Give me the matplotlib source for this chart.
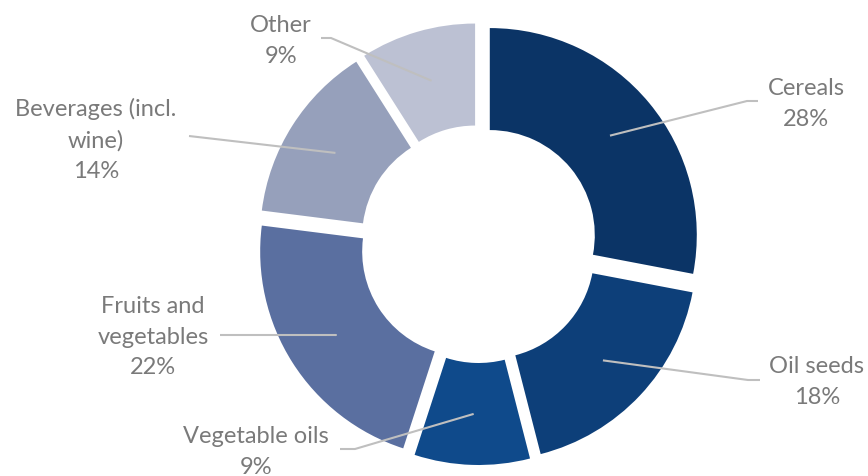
import matplotlib
matplotlib.use("Agg")
import matplotlib.pyplot as plt
import numpy as np

plt.rcParams['font.family'] = ['Lato', 'DejaVu Sans']

labels = ["Cereals", "Oil seeds", "Vegetable oils", "Fruits and\nvegetables",
          "Beverages (incl.\nwine)", "Other"]
shares = [28, 18, 9, 22, 14, 9]
colors = ["#0b3466", "#0d3f79", "#0f4a8b", "#5a6fa0", "#96a0bb", "#bcc1d3"]

# label centre and leader elbow, in pixel coords (y down)
label_pos = [(806, 104), (817, 382), (256, 452), (153, 337), (96, 140), (281, 41)]
elbows = [[(747, 102), (758, 102)],
          [(748, 381), (760, 381)],
          [(355, 450), (340, 450)],
          [(336, 336), (220, 336)],
          [(189, 137), (189, 137)],
          [(331, 39), (321, 39)]]

W, H = 868, 477
cx, cy = 479, 245
R, r = 207, 105
gap = 14

fig = plt.figure(figsize=(W / 100, H / 100), dpi=100)
ax = fig.add_axes([0, 0, 1, 1])

# explode is in data units here (pixels)
ax.pie(shares, colors=colors, radius=R, center=(cx, H - cy),
       startangle=90, counterclock=False,
       explode=[gap] * len(shares),
       wedgeprops=dict(width=R - r, linewidth=0))
ax.set_xlim(0, W)
ax.set_ylim(0, H)
ax.set_aspect('equal')
ax.axis('off')

# leader lines start at the middle of each ring segment
total = sum(shares)
start = 0
line_col = "#bfbfbf"
for lab, v, pos, elb in zip(labels, shares, label_pos, elbows):
    mid = np.deg2rad(360 * (start + v / 2) / total)
    start += v
    rr = (R + r) / 2 + gap
    x0 = cx + rr * np.sin(mid)
    y0 = cy - rr * np.cos(mid)
    xs = [x0] + [p[0] for p in elb]
    ys = [H - y0] + [H - p[1] for p in elb]
    ax.plot(xs, ys, color=line_col, lw=1.5, solid_capstyle='butt', zorder=3)
    ax.text(pos[0], H - pos[1], f"{lab}\n{v}%", ha='center', va='center',
            fontsize=17, color="#7a7a7a", linespacing=1.55)

fig.savefig("out.png", dpi=100)
